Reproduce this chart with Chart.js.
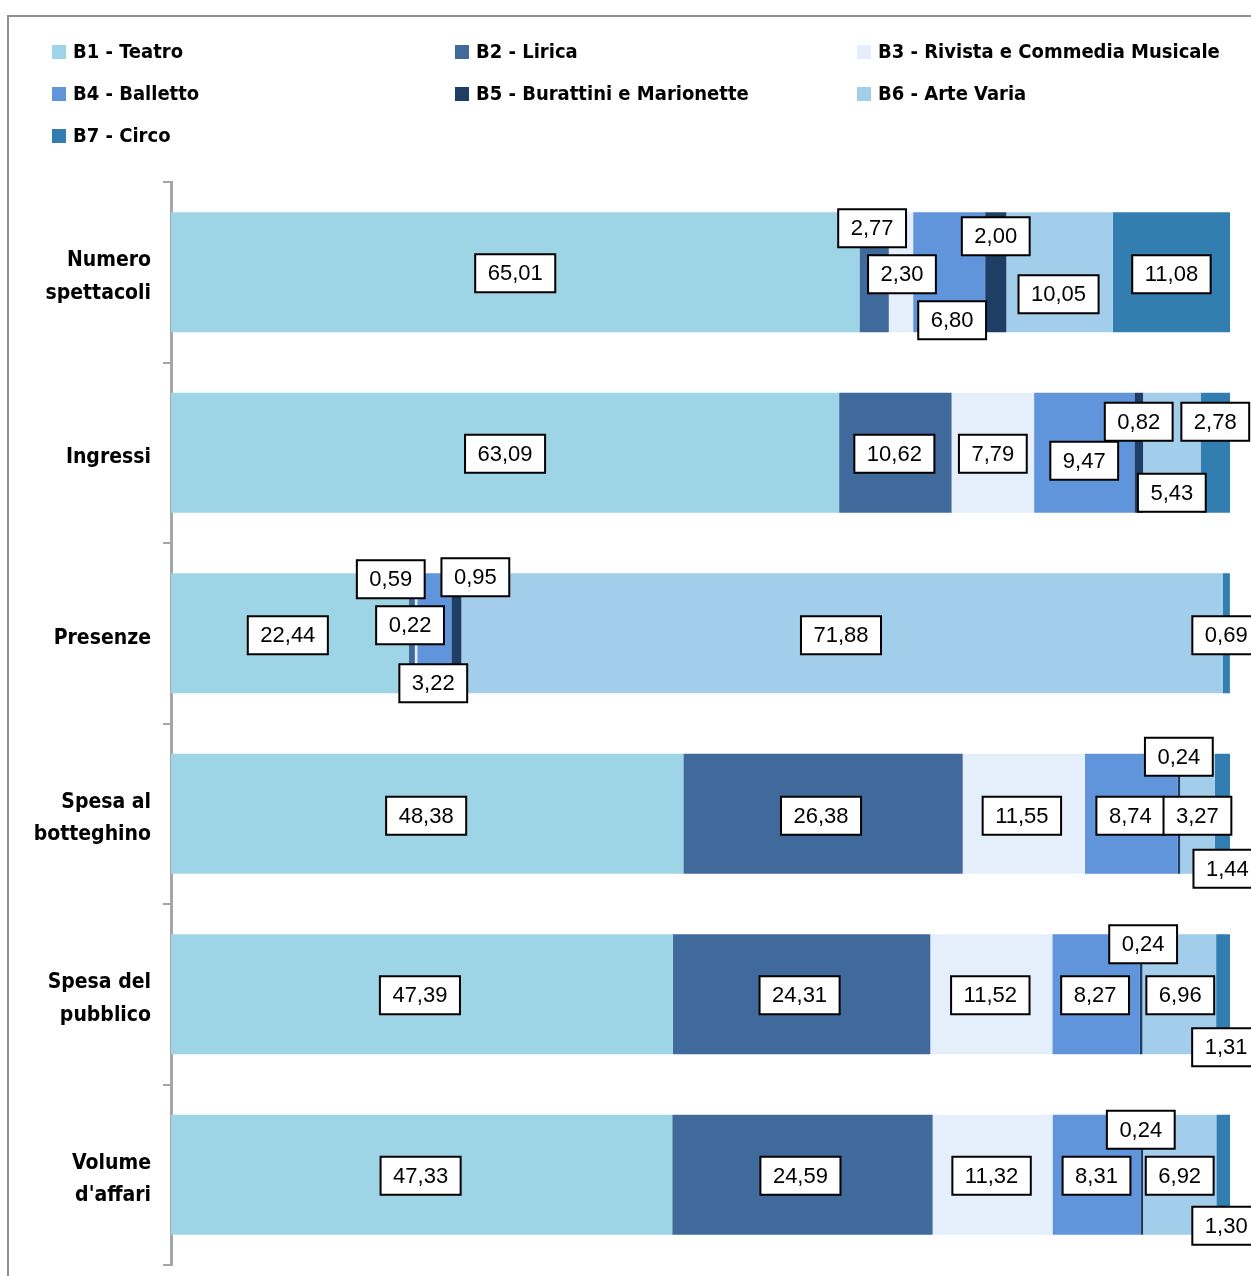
<!DOCTYPE html>
<html>
<head>
<meta charset="utf-8">
<script src="https://cdn.jsdelivr.net/npm/chart.js@4.4.1/dist/chart.umd.min.js"></script>
<style>
    html, body { margin: 0; padding: 0; background: #fff; overflow: hidden; }
    #wrap { position: relative; width: 1251px; height: 1276px; }
    #frame {
        position: absolute; left: 7px; top: 15px;
        width: 1400px; height: 1400px;
        border: 2px solid #8f8f8f;
    }
    #chartBox { position: absolute; left: 0; top: 0; width: 1251px; height: 1276px; }
    #legend { position: absolute; left: 0; top: 0; width: 1251px; height: 160px; }
    .lg-item {
        position: absolute; height: 26px; line-height: 26px;
        font-family: "DejaVu Sans Condensed", sans-serif;
        font-weight: bold; font-size: 20px; color: #000; white-space: nowrap;
    }
    .lg-box {
        display: inline-block; width: 14px; height: 14px;
        margin-right: 7px; vertical-align: -1px;
    }
</style>
</head>
<body>
<div id="wrap">
    <div id="frame"></div>
    <div id="chartBox"><canvas id="shareChart"></canvas></div>
    <div id="legend"></div>
</div>
<script>
// ==================================================
// Share by sector - 100% stacked horizontal bars
// ==================================================

// --------------------------------------------------
//  DATA
// --------------------------------------------------
const categories = [
    ["Numero", "spettacoli"],
    ["Ingressi"],
    ["Presenze"],
    ["Spesa al", "botteghino"],
    ["Spesa del", "pubblico"],
    ["Volume", "d'affari"]
];

const seriesNames = [
    "B1 - Teatro",
    "B2 - Lirica",
    "B3 - Rivista e Commedia Musicale",
    "B4 - Balletto",
    "B5 - Burattini e Marionette",
    "B6 - Arte Varia",
    "B7 - Circo"
];

const teatro    = [65.01, 63.09, 22.44, 48.38, 47.39, 47.33];
const lirica    = [2.77, 10.62, 0.59, 26.38, 24.31, 24.59];
const rivista   = [2.30, 7.79, 0.22, 11.55, 11.52, 11.32];
const balletto  = [6.80, 9.47, 3.22, 8.74, 8.27, 8.31];
const burattini = [2.00, 0.82, 0.95, 0.24, 0.24, 0.24];
const arteVaria = [10.05, 5.43, 71.88, 3.27, 6.96, 6.92];
const circo     = [11.08, 2.78, 0.69, 1.44, 1.31, 1.30];

// --------------------------------------------------
//  STYLE
// --------------------------------------------------
const seriesColors = ["#9dd5e6", "#416a9c", "#e5effb", "#6095dc", "#1f3e66", "#a2cdeb", "#337eb0"];

// label box nudges [dx, dy] in px from segment centre, per series per category
const labelOffsets = [
    [[0, 1], [0, 1], [-2, 2], [-1, 2], [-2, 1], [-1, 1]],
    [[-2, -44], [-1, 1], [-21, -54], [-2, 2], [-2, 1], [-2, 1]],
    [[1, 2], [0, 1], [-6, -8], [-2, 2], [-1, 1], [-1, 1]],
    [[3, 48], [0, 8], [-1, 50], [-1, 2], [-1, 1], [0, 1]],
    [[0, -36], [0, -31], [19, -56], [0, -57], [2, -50], [-1, -45]],
    [[-1, 22], [0, 40], [-1, 2], [0, 2], [1, 1], [0, 1]],
    [[0, 2], [0, -31], [0, 2], [5, 55], [3, 53], [3, 51]]
];

const seriesData = [teatro, lirica, rivista, balletto, burattini, arteVaria, circo];

// --------------------------------------------------
//  DATA LABEL PLUGIN (boxed values)
// --------------------------------------------------
const boxedLabels = {
    id: "boxedLabels",
    afterDatasetsDraw(chart) {
        const ctx = chart.ctx;
        ctx.save();
        ctx.font = "22px 'Liberation Sans', Arial, sans-serif";
        ctx.textAlign = "center";
        ctx.textBaseline = "middle";
        chart.data.datasets.forEach((ds, di) => {
            const meta = chart.getDatasetMeta(di);
            meta.data.forEach((bar, i) => {
                const text = ds.data[i].toFixed(2).replace(".", ",");
                const off = labelOffsets[di][i];
                const cx = (bar.x + bar.base) / 2 + off[0];
                const cy = bar.y + off[1];
                const w = ctx.measureText(text).width + 25;
                const h = 38;
                ctx.fillStyle = "#fff";
                ctx.fillRect(cx - w / 2, cy - h / 2, w, h);
                ctx.lineWidth = 2;
                ctx.strokeStyle = "#000";
                ctx.strokeRect(cx - w / 2, cy - h / 2, w, h);
                ctx.fillStyle = "#000";
                ctx.fillText(text, cx, cy + 1);
            });
        });
        ctx.restore();
    }
};

// --------------------------------------------------
//  CHART
// --------------------------------------------------
const shareChart = new Chart(document.getElementById("shareChart"), {
    type: "bar",
    data: {
        labels: categories,
        datasets: seriesData.map((values, i) => ({
            label: seriesNames[i],
            data: values,
            backgroundColor: seriesColors[i],
            borderWidth: 0,
            barPercentage: 0.665,
            categoryPercentage: 1
        }))
    },
    options: {
        indexAxis: "y",
        responsive: true,
        maintainAspectRatio: false,
        animation: false,
        layout: { padding: { left: 0, right: 21, top: 182, bottom: 11 } },
        plugins: {
            legend: { display: false },
            tooltip: { enabled: false }
        },
        scales: {
            x: {
                stacked: true,
                display: false,
                min: 0,
                max: 100
            },
            y: {
                stacked: true,
                afterFit: scale => {
                    scale.width = 171;
                    scale.paddingTop = 0;
                    scale.paddingBottom = 0;
                },
                grid: {
                    offset: true,
                    drawOnChartArea: false,
                    drawTicks: true,
                    tickLength: 8,
                    color: "#a6a6a6",
                    lineWidth: 2
                },
                border: { display: true, color: "#a6a6a6", width: 3 },
                ticks: {
                    color: "#000",
                    padding: 12,
                    labelOffset: 5,
                    font: {
                        family: "'DejaVu Sans Condensed', sans-serif",
                        weight: "bold",
                        size: 21,
                        lineHeight: 1.55
                    }
                }
            }
        }
    },
    plugins: [boxedLabels]
});

// --------------------------------------------------
//  LEGEND (3 columns, built from the chart datasets)
// --------------------------------------------------
const legendEl = document.getElementById("legend");
const colX = [52, 455, 857];
const rowY = [38, 80, 122];
shareChart.data.datasets.forEach((ds, i) => {
    const item = document.createElement("div");
    item.className = "lg-item";
    item.style.left = colX[i % 3] + "px";
    item.style.top = rowY[Math.floor(i / 3)] + "px";
    const box = document.createElement("span");
    box.className = "lg-box";
    box.style.background = ds.backgroundColor;
    item.appendChild(box);
    item.appendChild(document.createTextNode(ds.label));
    legendEl.appendChild(item);
});
</script>
</body>
</html>
